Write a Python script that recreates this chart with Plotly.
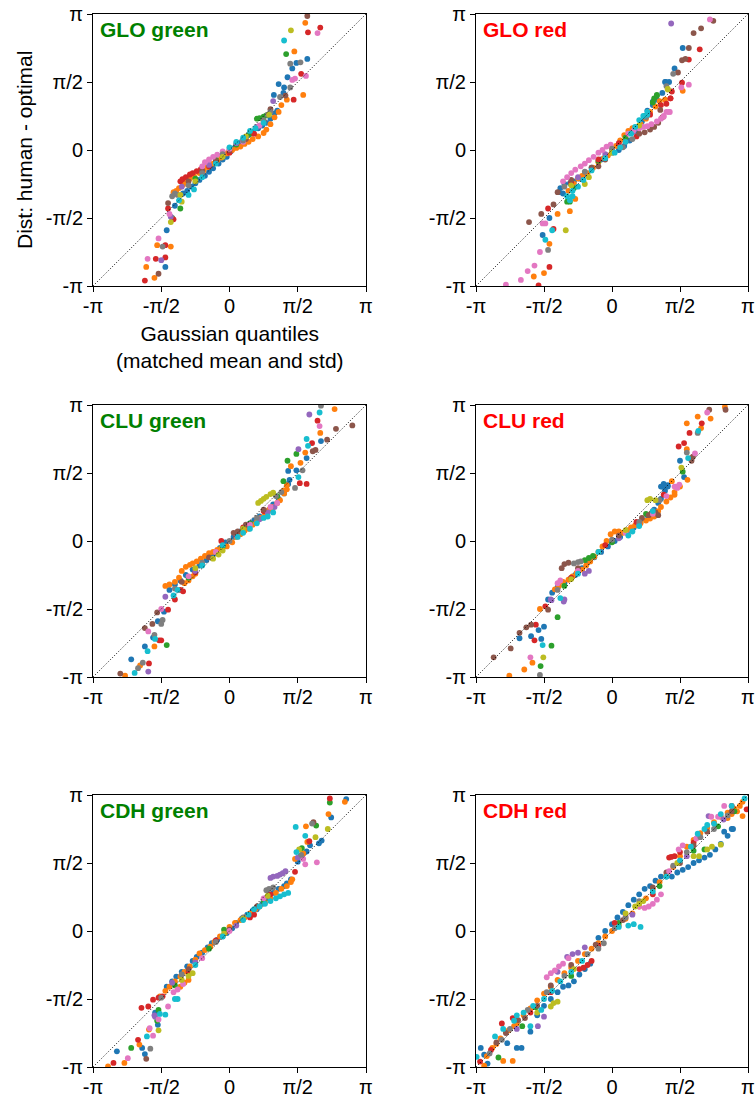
import plotly.graph_objects as go

# ---------------- data (values in units of pi) ----------------
TICK_VALUES = [-1, -0.5, 0, 0.5, 1]
TICK_LABELS = ["-π", "-π/2", "0", "π/2", "π"]
PANEL_TITLES = ["GLO green", "GLO red", "CLU green", "CLU red", "CDH green", "CDH red"]
TITLE_COLORS = ["green", "red", "green", "red", "green", "red"]

# participant colour codes (matplotlib tab10 order)
PARTICIPANT_CODES = ["b", "o", "G", "r", "u", "n", "p", "k", "y", "c"]
PARTICIPANT_COLORS = ["#1f77b4", "#ff7f0e", "#2ca02c", "#d62728", "#9467bd",
                      "#8c564b", "#e377c2", "#7f7f7f", "#bcbd22", "#17becf"]

# (participant, gaussian quantile, observed distance)
GLO_GREEN = [
    ("r",-0.62,-0.96),("o",-0.55,-0.94),("n",-0.52,-0.91),("o",-0.61,-0.86),("b",-0.47,-0.86),
    ("p",-0.60,-0.80),("r",-0.54,-0.80),("u",-0.50,-0.81),("r",-0.47,-0.79),
    ("p",-0.52,-0.65),("o",-0.53,-0.70),("k",-0.49,-0.71),("o",-0.43,-0.71),("r",-0.47,-0.70),
    ("b",-0.46,-0.59),("y",-0.43,-0.53),("G",-0.42,-0.50),("r",-0.41,-0.51),("u",-0.43,-0.49),("p",-0.44,-0.47),
    ("G",-0.36,-0.43),("n",-0.45,-0.39),("r",-0.45,-0.43),("c",-0.37,-0.37),("y",-0.35,-0.38),("b",-0.40,-0.41),
    ("k",-0.42,-0.34),("k",-0.40,-0.32),("k",-0.38,-0.33),
    ("o",-0.41,-0.31),("o",-0.39,-0.30),("o",-0.37,-0.28),("o",-0.34,-0.255),("o",-0.32,-0.235),("o",-0.29,-0.21),
    ("o",-0.26,-0.19),("o",-0.22,-0.17),("o",-0.19,-0.15),("o",-0.16,-0.125),("o",-0.12,-0.10),("o",-0.09,-0.075),
    ("o",-0.06,-0.055),("o",-0.02,-0.025),("o",0.02,0.0),("o",0.05,0.015),("o",0.08,0.025),("o",0.11,0.045),
    ("o",0.14,0.06),("o",0.17,0.08),("o",0.21,0.10),("o",0.25,0.125),("o",0.27,0.15),("o",0.30,0.19),("o",0.33,0.24),
    ("o",0.00,-0.015),("o",0.36,0.28),
    ("r",-0.36,-0.23),("r",-0.345,-0.215),("r",-0.32,-0.20),("r",-0.29,-0.18),("r",-0.27,-0.17),("r",-0.24,-0.155),("r",-0.21,-0.14),
    ("r",-0.15,-0.12),("r",0.0,-0.02),("r",0.18,0.12),
    ("b",-0.34,-0.32),("b",-0.31,-0.30),("b",-0.28,-0.27),("b",-0.25,-0.245),("b",-0.22,-0.22),("b",-0.18,-0.19),
    ("b",-0.15,-0.16),("b",-0.12,-0.135),("b",-0.08,-0.10),("b",-0.05,-0.07),("b",-0.02,-0.05),("b",0.01,-0.01),
    ("b",0.04,0.02),("b",0.08,0.05),("b",0.11,0.08),("b",0.14,0.11),("b",0.17,0.135),("b",0.21,0.16),
    ("b",0.24,0.18),("b",0.27,0.20),("b",0.30,0.23),("b",0.33,0.27),("b",0.35,0.29),
    ("c",-0.30,-0.33),("c",-0.26,-0.29),("c",0.0,0.02),("c",0.05,0.06),("c",0.10,0.09),("c",0.15,0.14),("c",0.19,0.16),
    ("c",-0.20,-0.20),("c",-0.10,-0.10),("c",0.25,0.20),
    ("p",-0.20,-0.12),("p",-0.18,-0.09),("p",-0.15,-0.07),("p",-0.12,-0.05),("p",-0.09,-0.035),("p",-0.05,-0.01),
    ("p",0.0,0.01),("p",0.10,0.06),("p",0.22,0.18),
    ("k",0.25,0.22),("k",0.28,0.26),("k",0.30,0.28),("k",-0.30,-0.26),("k",-0.20,-0.17),("k",-0.05,-0.03),("k",0.10,0.07),
    ("G",0.20,0.23),("G",0.22,0.235),("G",0.25,0.245),("G",0.27,0.255),
    ("G",-0.25,-0.21),("G",-0.10,-0.07),("G",0.05,0.04),("G",0.15,0.12),
    ("y",0.29,0.26),("y",-0.36,-0.33),("y",-0.25,-0.23),("y",-0.05,-0.05),("y",0.12,0.10),
    ("n",0.30,0.30),("n",0.25,0.21),("n",-0.10,-0.08),("n",-0.30,-0.23),("n",-0.20,-0.15),("n",0.0,0.0),("n",0.12,0.08),
    ("u",0.32,0.36),("u",-0.35,-0.27),("u",-0.15,-0.11),("u",0.05,0.05),("u",0.20,0.17),
    ("n",0.57,0.985),("o",0.555,0.935),("r",0.665,0.90),("r",0.575,0.865),("p",0.645,0.86),("y",0.45,0.88),
    ("c",0.40,0.805),("G",0.415,0.705),("o",0.475,0.725),("k",0.445,0.635),("b",0.49,0.64),("k",0.52,0.645),
    ("b",0.57,0.67),("b",0.46,0.60),("r",0.525,0.56),("b",0.425,0.535),("p",0.56,0.545),("p",0.46,0.515),
    ("p",0.48,0.525),("b",0.36,0.485),("b",0.40,0.46),("k",0.445,0.46),("o",0.54,0.405),("b",0.325,0.405),
    ("b",0.395,0.42),("r",0.47,0.37),("o",0.42,0.37),("k",0.37,0.39),("o",0.38,0.33),("n",0.41,0.40),
]

GLO_RED = [
    ("n",-0.40,-0.31),("b",-0.39,-0.31),("b",-0.36,-0.32),("n",-0.43,-0.40),("r",-0.47,-0.43),("n",-0.52,-0.47),
    ("b",-0.46,-0.50),("o",-0.40,-0.47),("o",-0.31,-0.45),("p",-0.51,-0.54),("p",-0.49,-0.54),("r",-0.43,-0.58),
    ("c",-0.44,-0.59),("y",-0.34,-0.59),("n",-0.61,-0.53),("b",-0.51,-0.625),("c",-0.49,-0.66),("o",-0.46,-0.69),
    ("k",-0.47,-0.735),("p",-0.53,-0.75),("p",-0.57,-0.85),("r",-0.46,-0.86),("p",-0.62,-0.89),("o",-0.575,-0.93),
    ("o",-0.50,-0.905),("p",-0.67,-0.955),("p",-0.78,-0.99),("r",-0.54,-0.995),("G",-0.33,-0.38),("G",-0.31,-0.38),
    ("c",-0.31,-0.37),("c",-0.29,-0.34),("y",-0.20,-0.25),("o",-0.27,-0.36),
    ("p",-0.36,-0.23),("p",-0.33,-0.20),("p",-0.30,-0.17),("p",-0.27,-0.145),("p",-0.23,-0.12),("p",-0.20,-0.10),
    ("p",-0.17,-0.075),("p",-0.135,-0.05),("p",-0.10,-0.02),("p",-0.07,0.0),("p",-0.04,0.025),("p",-0.01,0.04),
    ("p",0.12,0.12),("p",0.16,0.145),("p",0.20,0.16),("p",0.23,0.17),("p",0.26,0.175),("p",0.29,0.19),
    ("p",0.33,0.21),("p",0.36,0.23),("p",0.38,0.245),("p",0.42,0.28),("p",0.40,0.28),
    ("b",-0.38,-0.28),("b",-0.35,-0.25),("b",-0.31,-0.245),("b",-0.28,-0.23),("b",-0.24,-0.21),("b",-0.20,-0.18),
    ("b",0.05,0.0),("b",0.09,0.03),("b",0.13,0.07),("b",0.18,0.14),("b",0.22,0.21),("b",0.26,0.29),
    ("b",0.30,0.33),("b",0.33,0.37),("b",0.37,0.42),("b",0.39,0.50),
    ("b",-0.15,-0.13),("b",-0.08,-0.07),("b",0.0,-0.02),
    ("n",0.20,0.12),("n",0.24,0.13),("n",0.28,0.15),("n",0.31,0.17),("n",0.34,0.20),("n",0.37,0.24),
    ("n",-0.10,-0.12),("n",-0.05,-0.07),("n",-0.30,-0.22),("n",-0.15,-0.13),("n",0.10,0.06),
    ("G",0.31,0.38),("G",0.33,0.40),("G",0.30,0.35),("G",-0.28,-0.28),("G",-0.10,-0.08),("G",0.10,0.09),("G",0.24,0.25),
    ("k",0.08,0.02),("k",0.15,0.08),("k",0.40,0.47),("k",-0.35,-0.27),("k",-0.20,-0.16),("k",0.0,0.01),("k",0.25,0.24),
    ("y",-0.17,-0.20),("y",0.41,0.45),("y",-0.30,-0.26),("y",0.0,-0.02),("y",0.20,0.18),
    ("r",0.36,0.33),("r",0.40,0.34),("r",0.43,0.38),("r",0.18,0.10),
    ("r",-0.30,-0.24),("r",-0.10,-0.07),("r",0.05,0.05),("r",0.28,0.26),
    ("u",-0.25,-0.20),("u",-0.05,-0.03),("u",0.15,0.13),
    ("c",-0.33,-0.34),("c",-0.29,-0.30),("c",-0.25,-0.27),("c",-0.21,-0.22),("c",0.02,-0.02),("c",0.06,0.02),
    ("c",0.10,0.06),("c",0.14,0.12),("c",0.17,0.17),("c",0.20,0.22),("c",0.23,0.25),("c",0.26,0.28),
    ("c",-0.15,-0.15),("c",-0.05,-0.06),
    ("o",-0.32,-0.30),("o",-0.28,-0.25),("o",-0.25,-0.21),("o",-0.22,-0.19),("o",-0.18,-0.17),("o",-0.14,-0.13),
    ("o",-0.10,-0.09),("o",-0.06,-0.06),("o",-0.03,-0.04),("o",0.0,0.0),("o",0.03,0.03),("o",0.06,0.07),
    ("o",0.09,0.11),("o",0.12,0.14),("o",0.15,0.16),("o",0.18,0.17),("o",0.21,0.19),("o",0.25,0.23),("o",0.28,0.28),
    ("o",0.32,0.32),("o",0.35,0.36),
    ("u",0.435,0.93),("p",0.72,0.96),("n",0.745,0.95),("n",0.60,0.86),("n",0.655,0.895),("b",0.52,0.75),
    ("n",0.565,0.75),("r",0.645,0.74),("n",0.515,0.66),("n",0.54,0.67),("r",0.565,0.665),("b",0.46,0.60),
    ("k",0.45,0.56),("n",0.485,0.57),("b",0.395,0.50),("b",0.42,0.50),("y",0.41,0.445),("r",0.515,0.495),
    ("p",0.565,0.48),("p",0.51,0.46),("o",0.52,0.435),("G",0.33,0.405),("r",0.44,0.43),("r",0.43,0.38),
    ("o",0.39,0.37),("b",0.30,0.355),("p",0.425,0.28),("p",0.38,0.25),("n",0.355,0.295),("c",0.26,0.26),
]

CLU_GREEN = [
    ("k",0.67,0.995),("o",0.77,0.97),("c",0.66,0.945),("u",0.585,0.93),("r",0.645,0.885),("p",0.66,0.845),
    ("n",0.90,0.85),("n",0.78,0.825),("o",0.665,0.795),("c",0.565,0.75),("r",0.605,0.72),("b",0.67,0.735),
    ("n",0.715,0.745),("c",0.575,0.70),("u",0.505,0.675),("o",0.555,0.65),("n",0.63,0.67),("n",0.61,0.66),
    ("G",0.49,0.64),("G",0.425,0.59),("o",0.52,0.575),("b",0.565,0.61),("k",0.535,0.52),("b",0.49,0.52),
    ("o",0.45,0.55),("b",0.43,0.515),("r",0.565,0.42),("r",0.515,0.425),("G",0.395,0.44),("c",0.505,0.47),
    ("k",0.48,0.39),("o",0.42,0.41),("o",0.395,0.37),
    ("y",0.21,0.28),("y",0.23,0.295),("y",0.25,0.31),("y",0.27,0.325),("y",0.30,0.345),("y",0.32,0.355),
    ("o",-0.47,-0.33),("o",-0.44,-0.32),("o",-0.40,-0.30),("o",-0.37,-0.27),("o",-0.35,-0.22),("o",-0.32,-0.19),
    ("o",-0.29,-0.175),("o",-0.27,-0.165),("o",-0.24,-0.15),("o",-0.21,-0.13),("o",-0.18,-0.11),("o",-0.15,-0.09),
    ("o",-0.12,-0.08),("o",-0.09,-0.065),("o",-0.06,-0.05),("o",-0.02,-0.04),("o",0.02,-0.01),("o",0.05,0.03),
    ("o",0.08,0.05),("o",0.11,0.075),("o",0.14,0.09),("o",0.17,0.12),("o",0.20,0.14),("o",0.23,0.17),
    ("o",0.26,0.20),("o",0.29,0.23),("o",0.32,0.25),("o",0.35,0.28),("o",0.37,0.30),("o",0.40,0.35),("o",0.42,0.38),
    ("o",-0.33,-0.31),("o",-0.30,-0.29),("o",-0.27,-0.26),("o",-0.25,-0.24),
    ("b",-0.44,-0.36),("b",-0.40,-0.32),("b",-0.36,-0.29),("b",-0.32,-0.25),("b",-0.27,-0.21),("b",-0.22,-0.18),
    ("b",-0.17,-0.14),("b",-0.12,-0.10),("b",-0.07,-0.05),("b",-0.03,-0.01),("b",0.03,0.03),("b",0.08,0.07),
    ("b",0.13,0.11),("b",0.18,0.15),("b",0.22,0.18),("b",0.27,0.22),("b",0.32,0.27),("b",0.36,0.31),
    ("b",0.40,0.35),("b",0.43,0.42),("b",0.44,0.45),("b",0.05,0.05),("b",0.15,0.13),
    ("c",0.06,0.03),("c",0.10,0.06),("c",0.15,0.09),("c",0.20,0.13),("c",0.25,0.17),("c",0.28,0.18),
    ("c",0.32,0.21),("c",-0.38,-0.36),("c",-0.41,-0.40),("c",-0.20,-0.18),("c",-0.05,-0.03),
    ("y",-0.12,-0.13),("y",-0.08,-0.10),("y",-0.05,-0.07),("y",-0.25,-0.20),("y",0.10,0.09),
    ("r",-0.36,-0.36),("r",-0.34,-0.37),("r",-0.06,0.0),("r",-0.40,-0.43),("r",-0.25,-0.23),("r",0.10,0.10),("r",0.25,0.22),
    ("n",0.03,0.06),("n",0.06,0.07),("n",0.12,0.12),("n",-0.35,-0.30),("n",-0.15,-0.12),("n",0.25,0.23),
    ("u",-0.47,-0.41),("u",0.22,0.16),("u",0.28,0.21),("u",0.33,0.25),("u",-0.25,-0.22),("u",0.05,0.04),
    ("k",0.34,0.33),("k",0.38,0.36),("k",-0.40,-0.35),("k",-0.20,-0.16),("k",0.0,0.0),("k",0.20,0.17),
    ("G",-0.30,-0.27),("G",-0.05,-0.04),("G",0.15,0.13),("G",0.35,0.33),
    ("p",0.30,0.25),("p",0.35,0.28),("p",-0.30,-0.26),("p",-0.10,-0.08),("p",0.15,0.12),
    ("n",-0.53,-0.525),("r",-0.45,-0.505),("p",-0.50,-0.50),("b",-0.48,-0.52),("k",-0.49,-0.58),("b",-0.525,-0.59),
    ("k",-0.50,-0.61),("n",-0.565,-0.61),("n",-0.62,-0.64),("p",-0.595,-0.665),("b",-0.56,-0.71),("c",-0.545,-0.72),
    ("k",-0.55,-0.69),("r",-0.515,-0.73),("r",-0.50,-0.73),("G",-0.46,-0.765),("b",-0.62,-0.775),("c",-0.60,-0.81),
    ("o",-0.55,-0.775),("r",-0.59,-0.90),("k",-0.635,-0.895),("o",-0.655,-0.915),("b",-0.72,-0.87),("c",-0.695,-0.97),
    ("u",-0.595,-0.96),("k",-0.67,-0.935),("n",-0.80,-0.975),("o",-0.765,-0.99),
]

CLU_RED = [
    ("o",0.83,0.985),("n",0.835,0.965),("n",0.715,0.965),("p",0.70,0.945),("o",0.63,0.915),("o",0.725,0.90),
    ("r",0.66,0.865),("o",0.55,0.865),("o",0.655,0.83),("r",0.57,0.795),("k",0.63,0.795),("c",0.635,0.81),
    ("r",0.53,0.72),("r",0.49,0.695),("k",0.55,0.65),("o",0.55,0.675),("b",0.50,0.59),("n",0.585,0.59),
    ("o",0.58,0.61),("c",0.56,0.61),("p",0.61,0.645),("n",0.595,0.62),("y",0.51,0.54),("b",0.53,0.47),
    ("o",0.555,0.45),("p",0.495,0.415),("o",0.46,0.34),("b",0.36,0.40),("b",0.38,0.42),("b",0.41,0.41),
    ("o",0.50,0.40),("p",0.47,0.40),("G",0.52,0.51),
    ("o",-0.42,-0.355),("o",-0.39,-0.33),("o",-0.36,-0.30),("o",-0.32,-0.285),("o",-0.29,-0.26),("o",-0.26,-0.235),
    ("o",-0.22,-0.21),("o",-0.19,-0.18),("o",-0.16,-0.15),("o",-0.13,-0.115),("o",-0.10,-0.08),("o",-0.07,-0.04),
    ("o",-0.04,0.0),("o",-0.01,0.05),("o",0.02,0.07),("o",0.05,0.07),("o",0.08,0.06),("o",0.11,0.08),
    ("o",0.14,0.10),("o",0.17,0.115),("o",0.21,0.13),("o",0.25,0.15),("o",0.28,0.165),("o",0.31,0.18),
    ("o",0.34,0.22),("o",0.36,0.25),("o",0.40,0.29),("o",0.43,0.32),("o",0.46,0.36),("o",0.44,0.44),
    ("b",-0.47,-0.43),("b",-0.44,-0.38),("b",-0.40,-0.34),("b",-0.35,-0.31),("b",-0.31,-0.28),("b",-0.27,-0.25),
    ("b",-0.22,-0.20),("b",-0.18,-0.16),("b",-0.13,-0.12),("b",-0.08,-0.08),("b",-0.03,-0.04),("b",0.02,0.0),
    ("b",0.06,0.03),("b",0.11,0.06),("b",0.16,0.10),("b",0.21,0.14),("b",0.26,0.19),("b",0.31,0.23),
    ("b",0.34,0.28),("b",0.36,0.31),("b",0.39,0.37),("b",0.41,0.40),("b",0.37,0.40),
    ("n",0.27,0.19),("n",0.29,0.205),("n",0.32,0.21),("n",0.34,0.19),("n",-0.35,-0.17),("n",-0.32,-0.16),("n",-0.37,-0.20),
    ("n",-0.25,-0.20),("n",0.05,0.04),("n",0.22,0.17),
    ("k",-0.28,-0.165),("k",-0.25,-0.155),("k",-0.23,-0.15),("k",-0.40,-0.36),("k",0.0,0.01),("k",0.20,0.14),("k",0.35,0.30),
    ("G",-0.20,-0.14),("G",-0.17,-0.125),("G",-0.14,-0.11),("G",-0.35,-0.33),("G",0.0,-0.01),("G",0.25,0.20),
    ("y",0.26,0.30),("y",0.28,0.31),("y",-0.30,-0.28),("y",0.10,0.08),("y",0.32,0.30),
    ("u",-0.20,-0.24),("u",-0.17,-0.22),("u",-0.35,-0.43),("u",-0.45,-0.43),("u",0.05,0.02),("u",0.20,0.12),("u",0.30,0.22),
    ("r",-0.30,-0.27),("r",-0.05,-0.03),("r",0.18,0.14),("r",0.38,0.34),
    ("p",-0.40,-0.31),("p",-0.38,-0.29),("p",0.46,0.40),("p",0.48,0.39),("p",-0.25,-0.22),("p",0.10,0.06),("p",0.30,0.20),("p",0.40,0.33),
    ("c",-0.38,-0.42),("c",0.12,0.04),("c",0.15,0.07),("c",0.20,0.11),("c",-0.25,-0.24),("c",-0.10,-0.08),("c",0.30,0.22),
    ("o",-0.53,-0.50),("n",-0.47,-0.505),("r",-0.49,-0.48),("n",-0.595,-0.615),("n",-0.63,-0.635),("n",-0.68,-0.675),
    ("b",-0.68,-0.715),("n",-0.745,-0.79),("n",-0.87,-0.855),("b",-0.595,-0.70),("r",-0.57,-0.73),("b",-0.52,-0.72),
    ("c",-0.51,-0.765),("G",-0.445,-0.77),("G",-0.40,-0.56),("b",-0.54,-0.655),("b",-0.50,-0.63),("r",-0.56,-0.615),
    ("p",-0.60,-0.855),("y",-0.505,-0.855),("o",-0.585,-0.895),("G",-0.525,-0.92),("o",-0.645,-0.945),
    ("k",-0.53,-0.985),("o",-0.755,-0.99),("u",-0.445,-0.435),("u",-0.355,-0.445),
]

CDH_GREEN = [
    ("r",0.735,0.975),("G",0.735,0.945),("o",0.845,0.95),("b",0.855,0.97),("o",0.725,0.86),("b",0.745,0.835),
    ("c",0.485,0.765),("o",0.56,0.77),("n",0.615,0.80),("k",0.605,0.79),("G",0.635,0.775),("y",0.72,0.75),
    ("c",0.555,0.70),("r",0.585,0.66),("o",0.57,0.655),("y",0.63,0.69),("b",0.675,0.665),("b",0.655,0.645),
    ("G",0.53,0.61),("y",0.51,0.60),("b",0.59,0.63),("p",0.64,0.505),("b",0.50,0.51),("b",0.565,0.585),
    ("o",0.48,0.53),("c",0.49,0.58),("p",0.555,0.49),("r",0.48,0.435),("o",0.46,0.38),("b",0.52,0.55),
    ("o",0.54,0.57),("k",0.525,0.56),("p",0.54,0.53),("u",0.50,0.54),
    ("u",0.30,0.39),("u",0.32,0.40),("u",0.35,0.405),("u",0.37,0.415),("u",0.39,0.425),("u",0.41,0.44),
    ("k",0.27,0.30),("k",0.29,0.31),("k",0.32,0.32),("k",-0.35,-0.32),("k",-0.10,-0.08),("k",0.10,0.10),
    ("c",0.18,0.16),("c",0.22,0.18),("c",0.26,0.20),("c",0.30,0.22),("c",0.34,0.24),("c",0.37,0.255),
    ("c",0.40,0.27),("c",0.43,0.28),("c",-0.38,-0.50),("c",-0.40,-0.50),("c",-0.47,-0.615),
    ("c",-0.25,-0.25),("c",-0.05,-0.04),("c",0.10,0.08),("c",0.14,0.12),
    ("o",-0.51,-0.48),("o",-0.47,-0.44),("o",-0.44,-0.41),("o",-0.40,-0.37),("o",-0.36,-0.335),("o",-0.33,-0.30),
    ("o",-0.29,-0.26),("o",-0.25,-0.21),("o",-0.22,-0.165),("o",-0.18,-0.14),("o",-0.14,-0.115),("o",-0.11,-0.08),
    ("o",-0.07,-0.04),("o",-0.03,-0.01),("o",0.0,0.03),("o",0.04,0.06),("o",0.08,0.08),("o",0.11,0.10),
    ("o",0.15,0.13),("o",0.19,0.16),("o",0.22,0.18),("o",0.26,0.21),("o",0.30,0.24),("o",0.34,0.28),
    ("o",0.38,0.31),("o",0.42,0.33),("o",0.45,0.36),("o",-0.36,-0.41),("o",-0.33,-0.38),("o",-0.30,-0.36),
    ("b",-0.46,-0.41),("b",-0.42,-0.37),("b",-0.39,-0.335),("b",-0.35,-0.30),("b",-0.31,-0.26),("b",-0.27,-0.22),
    ("b",-0.24,-0.19),("b",-0.20,-0.16),("b",-0.16,-0.12),("b",-0.13,-0.09),("b",-0.09,-0.065),("b",-0.05,-0.04),
    ("b",-0.02,-0.015),("b",0.02,0.02),("b",0.05,0.06),("b",0.09,0.09),("b",0.13,0.12),("b",0.17,0.15),
    ("b",0.20,0.16),("b",0.24,0.20),("b",0.28,0.24),("b",0.32,0.28),("b",0.36,0.31),("b",0.40,0.33),
    ("b",0.42,0.35),("b",0.45,0.38),
    ("r",-0.56,-0.505),("r",-0.52,-0.49),("r",-0.49,-0.48),("r",-0.645,-0.565),("r",-0.595,-0.555),("r",0.15,0.10),("r",0.18,0.12),
    ("r",-0.30,-0.30),("r",-0.10,-0.07),("r",0.30,0.27),
    ("p",-0.45,-0.555),("p",-0.41,-0.45),("p",-0.38,-0.43),("p",-0.34,-0.39),("p",-0.20,-0.20),("p",0.0,0.0),("p",0.25,0.24),
    ("y",-0.27,-0.31),("y",-0.30,-0.33),("y",-0.04,-0.02),("y",-0.35,-0.36),("y",0.10,0.09),("y",0.28,0.26),
    ("G",-0.52,-0.58),("G",-0.04,0.01),("G",-0.40,-0.40),("G",-0.15,-0.13),("G",0.25,0.22),
    ("n",-0.30,-0.28),("n",0.00,0.01),("n",0.20,0.18),
    ("k",-0.50,-0.49),("u",-0.55,-0.62),("u",-0.42,-0.38),("u",-0.25,-0.23),("u",0.05,0.04),
    ("b",-0.545,-0.60),("c",-0.51,-0.61),("p",-0.52,-0.65),("u",-0.545,-0.63),("G",-0.53,-0.66),("y",-0.52,-0.73),
    ("b",-0.525,-0.69),("p",-0.56,-0.77),("o",-0.59,-0.725),("p",-0.585,-0.715),("c",-0.605,-0.775),("r",-0.67,-0.80),
    ("o",-0.66,-0.835),("G",-0.72,-0.86),("k",-0.58,-0.865),("b",-0.64,-0.86),("b",-0.62,-0.905),("n",-0.61,-0.94),
    ("b",-0.825,-0.885),("p",-0.745,-0.935),("o",-0.77,-0.97),("r",-0.85,-0.97),("o",-0.89,-0.995),
]

CDH_RED = [
    ("o",-0.88,-0.86),("o",-0.82,-0.79),("o",-0.76,-0.73),("o",-0.70,-0.68),("o",-0.65,-0.62),("o",-0.60,-0.57),
    ("o",-0.55,-0.51),("o",-0.50,-0.46),("o",-0.45,-0.41),("o",-0.40,-0.36),("o",-0.35,-0.31),("o",-0.30,-0.27),
    ("o",-0.25,-0.22),("o",-0.20,-0.17),("o",-0.15,-0.13),("o",-0.10,-0.09),("o",-0.05,-0.04),("o",0.0,0.0),
    ("o",0.05,0.04),("o",0.10,0.09),("o",0.15,0.13),("o",0.20,0.18),("o",0.25,0.24),("o",0.30,0.31),
    ("o",0.35,0.36),("o",0.40,0.41),("o",0.45,0.47),("o",0.50,0.55),("o",0.55,0.62),("o",0.60,0.67),
    ("o",0.65,0.72),("o",0.70,0.76),("o",0.75,0.80),("o",0.80,0.84),("o",0.85,0.87),("o",0.90,0.90),
    ("o",-0.92,-0.92),("o",-0.85,-0.83),("o",-0.78,-0.74),("o",-0.72,-0.70),("o",0.85,0.83),("o",0.88,0.86),("o",0.92,0.88),("o",0.94,0.92),
    ("b",-0.05,0.0),("b",0.0,0.05),("b",0.04,0.10),("b",0.08,0.14),("b",0.12,0.19),("b",0.16,0.23),
    ("b",0.20,0.27),("b",0.24,0.31),("b",0.28,0.33),("b",0.32,0.37),
    ("b",0.44,0.40),("b",0.48,0.43),("b",0.52,0.45),("b",0.56,0.47),("b",0.60,0.50),("b",0.64,0.52),("b",0.68,0.54),
    ("b",-0.40,-0.45),("b",-0.36,-0.41),("b",-0.32,-0.40),("b",-0.28,-0.37),("b",-0.24,-0.32),("b",-0.20,-0.28),("b",-0.16,-0.24),
    ("b",-0.60,-0.74),("b",-0.55,-0.62),("b",-0.50,-0.55),("b",-0.45,-0.50),("b",-0.10,-0.05),("b",0.36,0.40),("b",0.40,0.40),
    ("b",0.72,0.56),("b",0.76,0.60),("b",0.80,0.64),("b",0.85,0.70),("b",0.88,0.75),
    ("c",-0.80,-0.72),("c",-0.72,-0.66),("c",-0.52,-0.58),("c",0.12,0.04),("c",0.16,0.05),("c",0.21,0.03),("c",0.75,0.79),
    ("c",-0.70,-0.62),("c",-0.65,-0.60),("c",-0.58,-0.55),("c",-0.50,-0.50),("c",-0.44,-0.44),("c",-0.38,-0.37),
    ("c",-0.30,-0.30),("c",-0.22,-0.22),("c",0.05,0.03),("c",0.30,0.29),("c",0.40,0.40),("c",0.50,0.52),
    ("c",0.58,0.62),("c",0.68,0.75),("c",0.80,0.86),("c",0.88,0.92),
    ("p",-0.48,-0.34),("p",-0.45,-0.31),("p",-0.42,-0.29),("p",-0.39,-0.26),("p",-0.36,-0.24),("p",-0.32,-0.20),
    ("p",0.24,0.17),("p",0.27,0.18),("p",0.30,0.20),("p",0.33,0.23),("p",0.36,0.27),("p",0.49,0.60),("p",0.52,0.63),
    ("p",0.10,0.11),("p",0.20,0.18),("p",0.42,0.44),("p",0.62,0.68),("p",0.78,0.84),
    ("r",-0.24,-0.28),("r",-0.21,-0.27),("r",-0.18,-0.25),("r",-0.15,-0.22),("r",0.42,0.54),("r",-0.73,-0.64),("r",-0.60,-0.60),
    ("r",-0.45,-0.45),("r",-0.10,-0.11),("r",0.02,0.06),("r",0.30,0.27),("r",0.50,0.58),("r",0.60,0.65),("r",0.88,0.92),
    ("y",0.17,0.18),("y",0.20,0.20),("y",0.23,0.22),("y",0.60,0.55),("y",0.64,0.55),
    ("y",-0.45,-0.555),("y",-0.43,-0.53),("y",-0.40,-0.52),("y",-0.55,-0.60),("y",-0.28,-0.28),("y",0.10,0.13),("y",0.48,0.50),("y",0.70,0.60),
    ("k",-0.10,-0.13),("k",-0.06,-0.09),("k",0.10,0.10),("k",0.65,0.69),
    ("k",-0.90,-0.90),("k",-0.75,-0.72),("k",-0.62,-0.58),("k",-0.48,-0.45),("k",-0.35,-0.33),("k",-0.18,-0.17),
    ("k",0.02,0.02),("k",0.20,0.22),("k",0.45,0.48),("k",0.55,0.58),("k",0.75,0.75),("k",0.85,0.85),
    ("n",-0.64,-0.64),("n",-0.55,-0.55),("n",0.30,0.32),("n",0.60,0.63),
    ("n",-0.85,-0.82),("n",-0.78,-0.75),("n",-0.45,-0.40),("n",-0.30,-0.25),("n",-0.12,-0.10),("n",0.08,0.08),
    ("n",0.40,0.43),("n",0.50,0.50),("n",0.70,0.73),("n",0.88,0.88),
    ("u",-0.33,-0.19),("u",-0.29,-0.17),("u",-0.50,-0.63),("u",-0.70,-0.72),("u",-0.40,-0.30),("u",-0.25,-0.16),
    ("u",-0.20,-0.12),("u",0.15,0.12),("u",0.55,0.55),("u",0.82,0.82),
    ("G",0.78,0.77),("G",-0.56,-0.56),("G",-0.66,-0.70),("G",-0.30,-0.33),("G",0.05,0.06),("G",0.35,0.33),("G",0.60,0.59),("G",0.90,0.88),
    ("c",-0.86,-0.775),("r",-0.81,-0.68),("n",-0.69,-0.655),("u",-0.545,-0.70),("c",-0.60,-0.70),("b",-0.665,-0.86),
    ("b",-0.70,-0.86),("b",-0.77,-0.825),("b",-0.965,-0.86),("b",-0.915,-0.975),("G",-0.835,-0.93),("o",-0.80,-0.955),
    ("o",-0.73,-0.955),("r",-0.89,-0.875),("k",-0.81,-0.80),("c",-0.995,-0.925),("o",-0.94,-0.99),("r",-0.97,-0.96),
    ("b",-0.94,-0.91),
    ("c",0.975,0.975),("o",0.96,0.95),("r",0.99,0.895),("p",0.825,0.92),("u",0.71,0.845),("p",0.73,0.84),
    ("o",0.96,0.845),("b",0.89,0.75),("c",0.63,0.715),("c",0.70,0.78),("y",0.735,0.62),("y",0.80,0.635),
    ("G",0.68,0.60),("b",0.825,0.73),("r",0.435,0.545),("r",0.46,0.55),
]

PANELS = [GLO_GREEN, GLO_RED, CLU_GREEN, CLU_RED, CDH_GREEN, CDH_RED]

# ---------------- layout geometry (pixels) ----------------
W, H = 755, 1098
COL_X = [(93, 366), (476, 748)]
ROW_Y = [(14, 286), (405, 677), (795, 1067)]
FONT = "Liberation Sans, Arial, Helvetica, sans-serif"

fig = go.Figure()
layout = dict(width=W, height=H, autosize=False,
              margin=dict(l=0, r=0, t=0, b=0, pad=0, autoexpand=False),
              paper_bgcolor="white", plot_bgcolor="white", showlegend=False,
              font=dict(family=FONT, color="black"))
annotations = []

for i, pts in enumerate(PANELS):
    r, c = divmod(i, 2)
    n = i + 1
    xa = "x" if n == 1 else f"x{n}"
    ya = "y" if n == 1 else f"y{n}"
    x0, x1 = COL_X[c]
    y0, y1 = ROW_Y[r]
    common = dict(range=[-1, 1], tickvals=TICK_VALUES, ticktext=TICK_LABELS,
                  showline=True, linecolor="black", linewidth=1, mirror=True,
                  ticks="outside", ticklen=5, tickcolor="black", tickwidth=1,
                  showgrid=False, zeroline=False, automargin=False,
                  tickfont=dict(family=FONT, size=20, color="black"))
    layout["xaxis" if n == 1 else f"xaxis{n}"] = dict(domain=[x0 / W, x1 / W], anchor=ya,
                                                      ticklabelstandoff=-3, **common)
    layout["yaxis" if n == 1 else f"yaxis{n}"] = dict(domain=[1 - y1 / H, 1 - y0 / H], anchor=xa, **common)

    for code, col in zip(PARTICIPANT_CODES, PARTICIPANT_COLORS):
        sel = [p for p in pts if p[0] == code]
        if not sel:
            continue
        fig.add_trace(go.Scatter(x=[p[1] for p in sel], y=[p[2] for p in sel], mode="markers",
                                 marker=dict(color=col, size=5.8, line=dict(width=0)),
                                 xaxis=xa, yaxis=ya, hoverinfo="skip"))
    fig.add_trace(go.Scatter(x=[-1, 1], y=[-1, 1], mode="lines",
                             line=dict(color="black", width=1, dash="1px,2px"),
                             xaxis=xa, yaxis=ya, hoverinfo="skip"))
    annotations.append(dict(text=f"<b>{PANEL_TITLES[i]}</b>", xref="paper", yref="paper",
                            x=(x0 + 5) / W, y=1 - (y0 + 2) / H, xanchor="left", yanchor="top",
                            showarrow=False, font=dict(family=FONT, size=21, color=TITLE_COLORS[i])))

annotations.append(dict(text="Dist: human - optimal", xref="paper", yref="paper",
                        x=24 / W, y=1 - 150 / H, xanchor="center", yanchor="middle",
                        textangle=-90, showarrow=False, font=dict(family=FONT, size=21, color="black")))
annotations.append(dict(text="Gaussian quantiles<br>(matched mean and std)", xref="paper", yref="paper",
                        x=230 / W, y=1 - 347 / H, xanchor="center", yanchor="middle",
                        showarrow=False, font=dict(family=FONT, size=21, color="black")))
layout["annotations"] = annotations
fig.update_layout(**layout)
fig.write_html("out.html", config={"responsive": False, "displayModeBar": False},
               post_script="document.body.style.margin='0px';document.body.style.overflow='hidden';")
